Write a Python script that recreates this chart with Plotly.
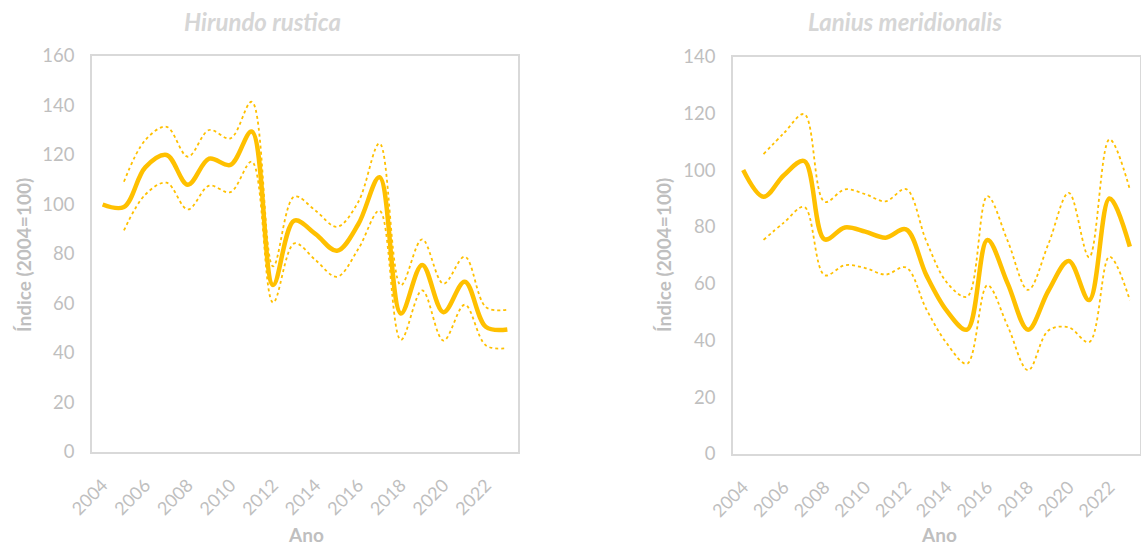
import plotly.graph_objects as go

# Years (category axis) and the labelled subset
years = [str(y) for y in range(2004, 2024)]
tick_years = years[::2]

# Hirundo rustica: index (2004=100) with lower/upper confidence limits (from 2005)
hirundo_index = [100, 99, 115, 120, 108, 118.5, 116, 129.5, 67.5, 93.5, 88, 81.3, 92, 111,
                 56, 75.6, 56.5, 68.8, 50.5, 49.5]
hirundo_upper = [None, 109.2, 126, 131.4, 119.3, 130.1, 126.7, 141.5, 75, 103.2, 97.5, 91,
                 101, 124.7, 67.4, 85.9, 68, 78.9, 58.5, 57.5]
hirundo_lower = [None, 89.5, 104, 108.8, 98, 107.6, 105, 117.3, 60.4, 84.3, 77.5, 70.8,
                 82, 97.5, 45.3, 65.3, 45, 59.5, 43, 42]

# Lanius meridionalis: index (2004=100) with lower/upper confidence limits (from 2005)
lanius_index = [100, 90.6, 98.2, 103.2, 75.6, 79.8, 78.3, 76.2, 79.1, 63, 50.5, 43.8, 75.4,
                60, 43.8, 57.5, 68, 54.2, 90, 73]
lanius_upper = [None, 105.6, 113, 119.7, 88.8, 93.2, 91.5, 89, 93.3, 75, 60.5, 55.4, 90.8,
                75, 57.8, 74, 92, 69.3, 110.8, 93.2]
lanius_lower = [None, 75.4, 81.5, 87, 63, 66.5, 65.5, 63.2, 65.7, 51, 39, 31.8, 59.4,
                45, 29.5, 43.5, 44.6, 39.4, 69.5, 54.2]

YELLOW = "#FFC000"
TICK_GREY = "#bfbfbf"
TITLE_GREY = "#d6d6d6"
BOX_GREY = "#d9d9d9"
FONT = "Lato, 'Open Sans', sans-serif"

fig = go.Figure()


def add_series(idx, lower, upper, xa, ya):
    for vals in (upper, lower):
        fig.add_trace(go.Scatter(
            x=years, y=vals, mode="lines", xaxis=xa, yaxis=ya,
            line=dict(color=YELLOW, width=1.8, dash="dot", shape="spline", smoothing=1),
            connectgaps=False, showlegend=False, hoverinfo="skip"))
    fig.add_trace(go.Scatter(
        x=years, y=idx, mode="lines", xaxis=xa, yaxis=ya,
        line=dict(color=YELLOW, width=4.5, shape="spline", smoothing=1),
        showlegend=False))


add_series(hirundo_index, hirundo_lower, hirundo_upper, "x", "y")
add_series(lanius_index, lanius_lower, lanius_upper, "x2", "y2")

# Invisible outside ticks push the slanted year labels away from the frame
xaxis_common = dict(
    type="category", categoryorder="array", categoryarray=years,
    range=[-0.5, 19.5], tickmode="array", tickvals=tick_years, ticktext=tick_years,
    tickangle=-45, tickfont=dict(family=FONT, size=18, color=TICK_GREY),
    showgrid=False, zeroline=False, showline=True, mirror=True,
    linecolor=BOX_GREY, linewidth=1.5,
    ticks="outside", ticklen=14, tickcolor="rgba(0,0,0,0)", automargin=False,
)
yaxis_common = dict(
    showgrid=False, zeroline=False, showline=True, mirror=True,
    linecolor=BOX_GREY, linewidth=1.5,
    ticks="outside", ticklen=12, tickcolor="rgba(0,0,0,0)",
    tickfont=dict(family=FONT, size=18.5, color=TICK_GREY), automargin=False,
)

fig.update_layout(
    width=1141, height=547,
    margin=dict(l=0, r=0, t=0, b=0),
    paper_bgcolor="white", plot_bgcolor="white",
    xaxis=dict(domain=[92 / 1141, 518 / 1141], anchor="y", **xaxis_common),
    yaxis=dict(domain=[(547 - 452) / 547, (547 - 56) / 547], anchor="x",
               range=[0, 160], dtick=20, **yaxis_common),
    xaxis2=dict(domain=[733 / 1141, 1140 / 1141], anchor="y2", **xaxis_common),
    yaxis2=dict(domain=[(547 - 454) / 547, (547 - 56.5) / 547], anchor="x2",
                range=[0, 140], dtick=20, **yaxis_common),
)

annotations = [
    dict(text="<b><i>Hirundo rustica</i></b>", x=262 / 1141, y=1 - 21 / 547,
         font=dict(family=FONT, size=24, color=TITLE_GREY)),
    dict(text="<b><i>Lanius meridionalis</i></b>", x=905 / 1141, y=1 - 21 / 547,
         font=dict(family=FONT, size=24, color=TITLE_GREY)),
    dict(text="<b>Ano</b>", x=306 / 1141, y=1 - 534 / 547,
         font=dict(family=FONT, size=19, color=TICK_GREY)),
    dict(text="<b>Ano</b>", x=939 / 1141, y=1 - 534 / 547,
         font=dict(family=FONT, size=19, color=TICK_GREY)),
    dict(text="<b>Índice (2004=100)</b>", x=23 / 1141, y=1 - 255 / 547, textangle=-90,
         font=dict(family=FONT, size=19, color=TICK_GREY)),
    dict(text="<b>Índice (2004=100)</b>", x=663 / 1141, y=1 - 255 / 547, textangle=-90,
         font=dict(family=FONT, size=19, color=TICK_GREY)),
]
for a in annotations:
    a.update(xref="paper", yref="paper", showarrow=False, xanchor="center", yanchor="middle")
fig.update_layout(annotations=annotations)

fig.write_html("out.html")
